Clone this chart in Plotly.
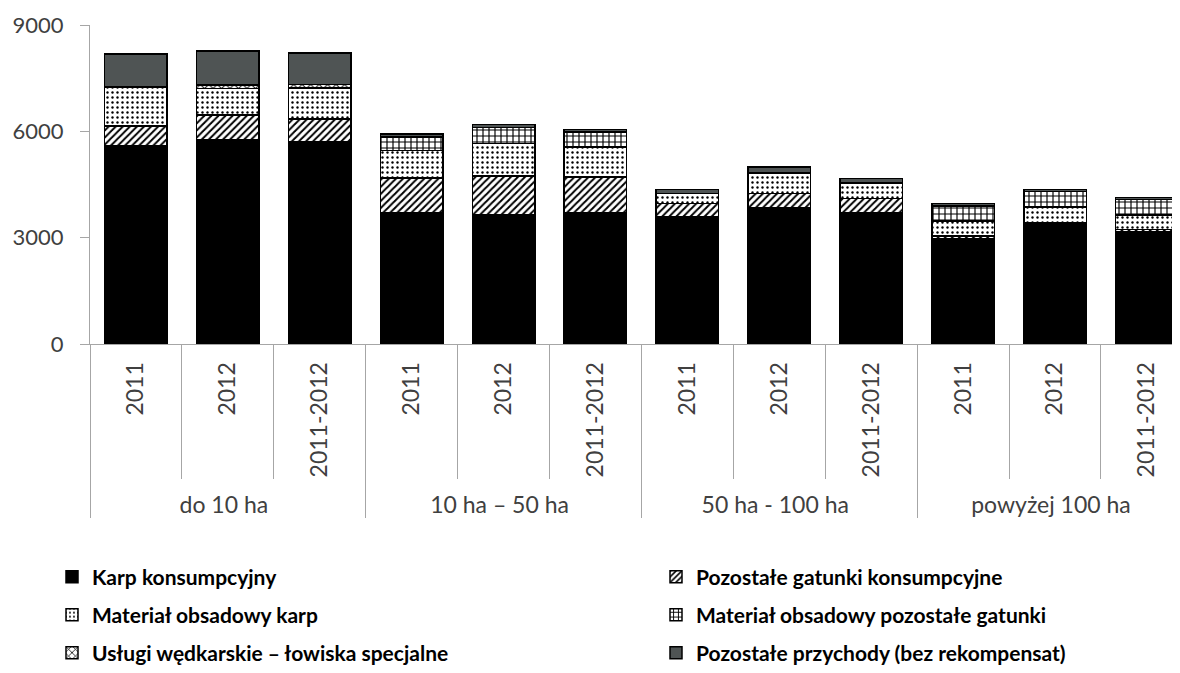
import plotly.graph_objects as go

groups = ["do 10 ha", "10 ha – 50 ha", "50 ha - 100 ha", "powyżej 100 ha"]
years = ["2011", "2012", "2011-2012"]

karp_konsumpcyjny = [5585, 5765, 5710, 3700, 3640, 3690, 3590, 3850, 3700, 2980, 3420, 3160]
pozostale_gatunki = [570, 690, 635, 990, 1100, 1020, 380, 390, 410, 70, 0, 70]
material_karp = [1100, 760, 880, 775, 920, 850, 270, 580, 430, 415, 445, 410]
material_pozostale = [0, 0, 0, 370, 450, 420, 0, 0, 0, 430, 440, 440]
uslugi_wedkarskie = [0, 95, 100, 0, 0, 0, 0, 0, 0, 0, 0, 0]
pozostale_przychody = [925, 960, 880, 95, 85, 75, 125, 180, 130, 75, 60, 60]

series_names = [
    "Karp konsumpcyjny",
    "Pozostałe gatunki konsumpcyjne",
    "Materiał obsadowy karp",
    "Materiał obsadowy pozostałe gatunki",
    "Usługi wędkarskie – łowiska specjalne",
    "Pozostałe przychody (bez rekompensat)",
]
series_values = [karp_konsumpcyjny, pozostale_gatunki, material_karp,
                 material_pozostale, uslugi_wedkarskie, pozostale_przychody]

x_outer = [g for g in groups for _ in years]
x_inner = [y for _ in groups for y in years]

styles = [
    dict(color="#000000", pattern=None),
    dict(color="#ffffff", pattern=dict(shape="/", fgcolor="#000000", bgcolor="#ffffff", size=5, solidity=0.4, fillmode="replace")),
    dict(color="#ffffff", pattern=dict(shape=".", fgcolor="#000000", bgcolor="#ffffff", size=5, solidity=0.18, fillmode="replace")),
    dict(color="#ffffff", pattern=dict(shape="+", fgcolor="#000000", bgcolor="#ffffff", size=6, solidity=0.35, fillmode="replace")),
    dict(color="#ffffff", pattern=dict(shape="x", fgcolor="#000000", bgcolor="#ffffff", size=6, solidity=0.3, fillmode="replace")),
    dict(color="#4f5454", pattern=None),
]
legend_ids = ["legend", "legend2", "legend3", "legend4", "legend5", "legend6"]

fig = go.Figure()
for name, vals, st, lg in zip(series_names, series_values, styles, legend_ids):
    marker = dict(color=st["color"], line=dict(color="#000000", width=1.5))
    if st["pattern"] is not None:
        marker["pattern"] = st["pattern"]
    fig.add_trace(go.Bar(x=[x_outer, x_inner], y=vals, name=name, marker=marker, legend=lg))

font_family = "Lato, 'Open Sans', sans-serif"
legend_common = dict(orientation="h", xref="container", yref="container",
                     xanchor="left", yanchor="middle",
                     font=dict(family=font_family, size=21, color="#000000", weight="bold"),
                     bgcolor="rgba(0,0,0,0)", itemclick=False, itemdoubleclick=False)

W, H = 1180, 673
OFF = 8  # page body margin offset
col_x = [(52 - OFF) / W, (656 - OFF) / W]
row_y = [1 - (577 - OFF) / H, 1 - (615 - OFF) / H, 1 - (653 - OFF) / H]
legend_layout = {}
for i, lg in enumerate(legend_ids):
    legend_layout[lg] = dict(legend_common, x=col_x[i % 2], y=row_y[i // 2])

fig.update_layout(
    width=W, height=H,
    margin=dict(l=90 - OFF, r=OFF, t=25 - OFF, b=H - (344 - OFF)),
    paper_bgcolor="#ffffff", plot_bgcolor="#ffffff",
    barmode="stack", bargap=0.32,
    font=dict(family=font_family, size=22, color="#404040"),
    showlegend=True,
    **legend_layout,
    xaxis=dict(
        type="multicategory", range=[-0.5, 11.36], automargin=False,
        showline=True, linecolor="#a6a6a6", linewidth=1,
        ticks="outside", ticklen=134, tickcolor="#a6a6a6", tickwidth=1,
        tickangle=-90, ticklabelstandoff=8,
        tickfont=dict(family=font_family, size=23, color="#404040"),
        showdividers=True, dividercolor="#a6a6a6", dividerwidth=1,
        showgrid=False, zeroline=False,
    ),
    yaxis=dict(
        range=[0, 9000], tickvals=[0, 3000, 6000, 9000], automargin=False,
        showline=True, linecolor="#a6a6a6", linewidth=1,
        ticks="outside", ticklen=9, tickcolor="#a6a6a6",
        ticklabelstandoff=12,
        showgrid=False, zeroline=False,
        tickfont=dict(family=font_family, size=22, color="#404040"),
    ),
)

fig.write_html("out.html")
